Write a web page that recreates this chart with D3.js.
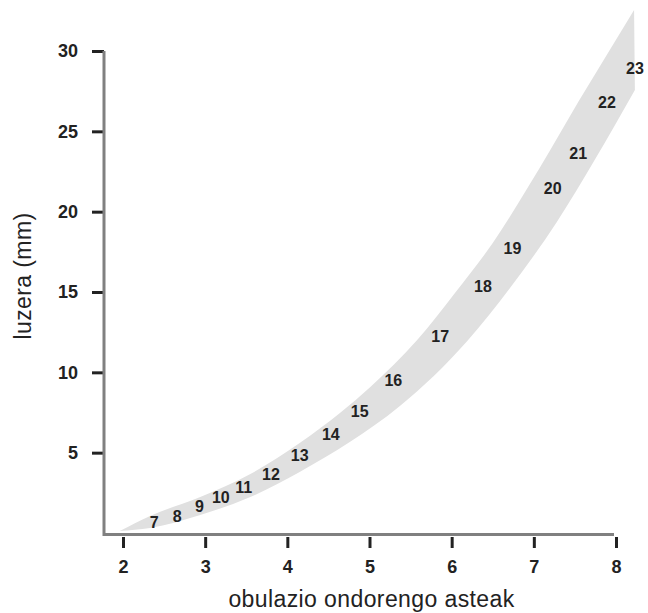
<!DOCTYPE html>
<html>
<head>
<meta charset="utf-8">
<script src="https://cdn.jsdelivr.net/npm/d3@7.9.0/dist/d3.min.js"></script>
<style>
  body { margin: 0; background: #fff; }
  svg { display: block; font-family: "Liberation Sans", Arial, sans-serif; }
</style>
</head>
<body>
<svg width="648" height="613"></svg>
<script>
// week numbers printed inside the band, and where they sit (weeks after ovulation, mm)
const weekLabels = [7, 8, 9, 10, 11, 12, 13, 14, 15, 16, 17, 18, 19, 20, 21, 22, 23];
const labelX = [2.38, 2.66, 2.93, 3.19, 3.47, 3.80, 4.15, 4.53, 4.88, 5.29, 5.86, 6.38, 6.74, 7.23, 7.54, 7.89, 8.23];
const labelY = [0.68, 1.06, 1.68, 2.24, 2.86, 3.67, 4.85, 6.16, 7.59, 9.52, 12.26, 15.37, 17.73, 21.47, 23.65, 26.82, 28.94];

// upper and lower edge of the grey band
const upperX = [1.96, 2.33, 2.94, 3.55, 4.15, 4.64, 5.01, 5.58, 6.04, 6.50, 6.93, 7.20, 7.54, 7.88, 8.22];
const upperY = [0.12, 1.06, 2.24, 3.67, 5.60, 7.47, 9.09, 12.01, 14.94, 18.05, 21.53, 23.84, 26.82, 29.69, 32.55];
const lowerX = [1.96, 2.33, 2.94, 3.55, 4.15, 4.76, 5.37, 6.19, 6.71, 7.28, 7.74, 8.23];
const lowerY = [0.12, 0.31, 1.12, 2.24, 3.80, 5.66, 7.90, 11.95, 15.25, 19.36, 23.21, 27.57];

const xTicks = [2, 3, 4, 5, 6, 7, 8];
const yTicks = [5, 10, 15, 20, 25, 30];

const svg = d3.select('svg');
const x = d3.scaleLinear().domain([2, 8]).range([123, 616]);
const y = d3.scaleLinear().domain([0, 30]).range([533, 51]);

// band: upper edge left to right, then lower edge back
const line = d3.line().x(d => x(d[0])).y(d => y(d[1])).curve(d3.curveMonotoneX);
const up = upperX.map((v, i) => [v, upperY[i]]);
const low = lowerX.map((v, i) => [v, lowerY[i]]).reverse();
svg.append('path')
  .attr('d', line(up) + line(low).replace(/^M/, 'L') + 'Z')
  .attr('fill', '#e0e0e0');

// labels in band
svg.append('g').selectAll('text')
  .data(weekLabels)
  .join('text')
  .attr('x', (d, i) => x(labelX[i]))
  .attr('y', (d, i) => y(labelY[i]))
  .attr('dy', '0.36em')
  .attr('text-anchor', 'middle')
  .attr('font-size', 16)
  .attr('font-weight', 'bold')
  .attr('fill', '#222')
  .text(d => d);

// axes
const yAxis = svg.append('g')
  .attr('transform', 'translate(104,0)')
  .call(d3.axisLeft(y).tickValues(yTicks).tickSize(12).tickPadding(14));
const xAxis = svg.append('g')
  .attr('transform', 'translate(0,537)')
  .call(d3.axisBottom(x).tickValues(xTicks).tickFormat(d3.format('d')).tickSize(11).tickPadding(12));

[yAxis, xAxis].forEach(g => {
  g.select('.domain').remove();
  g.selectAll('line').attr('stroke', '#222').attr('stroke-width', 3);
  g.selectAll('text')
    .attr('font-size', 18)
    .attr('font-weight', 'bold')
    .attr('fill', '#222')
    .attr('font-family', '"Liberation Sans", Arial, sans-serif');
});

// axis lines
svg.append('path')
  .attr('d', `M104,${y(30)}V534.5H614`)
  .attr('fill', 'none')
  .attr('stroke', '#808080')
  .attr('stroke-width', 3);

// titles
svg.append('text')
  .attr('x', 371.5)
  .attr('y', 607)
  .attr('text-anchor', 'middle')
  .attr('font-size', 23)
  .attr('letter-spacing', 0.4)
  .attr('fill', '#222')
  .text('obulazio ondorengo asteak');

svg.append('text')
  .attr('transform', 'translate(31,276) rotate(-90)')
  .attr('text-anchor', 'middle')
  .attr('font-size', 23)
  .attr('letter-spacing', 0.4)
  .attr('fill', '#222')
  .text('luzera (mm)');
</script>
</body>
</html>
